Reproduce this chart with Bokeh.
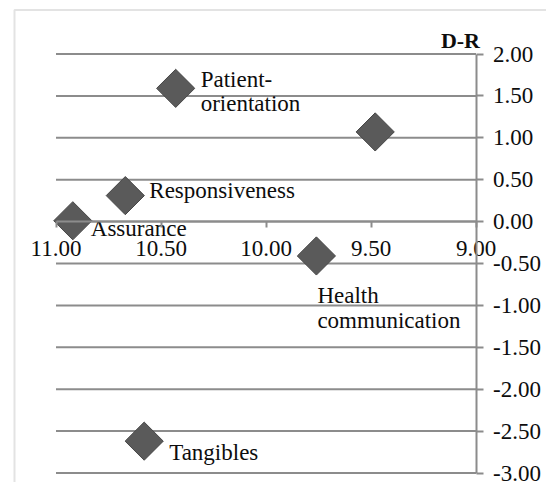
import numpy as np
from bokeh.plotting import figure
from bokeh.models import (LinearAxis, FixedTicker, NumeralTickFormatter, Range1d,
                          ColumnDataSource, BoxAnnotation)
from bokeh.core.properties import value
from bokeh.embed import file_html
from bokeh.resources import INLINE

# ---- data ----
labels = ["Patient-\norientation", "", "Responsiveness", "Assurance",
          "Health\ncommunication", "Tangibles"]
x_vals = [10.43, 9.48, 10.67, 10.92, 9.76, 10.58]
d_r = [1.59, 1.07, 0.31, 0.01, -0.41, -2.62]
x_ticks = [11.0, 10.5, 10.0, 9.5, 9.0]
y_ticks = [2.0, 1.5, 1.0, 0.5, 0.0, -0.5, -1.0, -1.5, -2.0, -2.5, -3.0]
y_title = "D-R"

# ---- layout (pixels) ----
W, H = 546, 482
X_LEFT_PX, X_RIGHT_PX = 55.5, 475.5     # where 11.00 and 9.00 sit
Y_TOP_PX, Y_BOT_PX = 53.5, 472.5        # where 2.00 and -3.00 sit
x_hi, x_lo = max(x_ticks), min(x_ticks)
y_hi, y_lo = max(y_ticks), min(y_ticks)
xs = (X_RIGHT_PX - X_LEFT_PX) / (x_hi - x_lo)
ys = (Y_BOT_PX - Y_TOP_PX) / (y_hi - y_lo)
x_range = Range1d(x_hi + X_LEFT_PX / xs, x_lo - (W - X_RIGHT_PX) / xs)
y_range = Range1d(y_lo - (H - Y_BOT_PX) / ys, y_hi + Y_TOP_PX / ys)

label_dx = [25, 0, 24, 18, 1, 25]
label_dy = [3, 0, -5, 8, 52, 11]

FONT = "Liberation Serif"
GRID = "#8c8c8c"
TXT = "#0d0d0d"

src = ColumnDataSource(dict(x=x_vals, y=d_r, label=labels, dx=label_dx, dy=label_dy))
gsrc = ColumnDataSource(dict(y=y_ticks, x0=[x_hi] * len(y_ticks), x1=[x_lo] * len(y_ticks)))
tsrc = ColumnDataSource(dict(x=[x_lo], y=[y_hi], t=[y_title]))

p = figure(width=W, height=H, output_backend="svg", toolbar_location=None,
           x_range=x_range, y_range=y_range,
           x_axis_location=None, y_axis_location=None,
           min_border_left=0, min_border_right=0, min_border_top=0, min_border_bottom=0)
p.outline_line_color = None
p.background_fill_color = "white"
p.border_fill_color = "white"
p.grid.visible = False

# outer chart border (only its left and top edges fall inside the picture)
p.add_layout(BoxAnnotation(left=x_range.start - 14 / xs, top=y_range.end - 9.5 / ys,
                           right=x_range.end - 40 / xs, bottom=y_range.start - 40 / ys,
                           fill_color=None, line_color="#a3a3a3", line_width=2))

# horizontal gridlines
p.segment(x0="x0", x1="x1", y0="y", y1="y", source=gsrc, line_color=GRID, line_width=2)

xaxis = LinearAxis(fixed_location=0, ticker=FixedTicker(ticks=x_ticks),
                   formatter=NumeralTickFormatter(format="0.00"), bounds=(x_lo, x_hi))
yaxis = LinearAxis(fixed_location=x_lo, ticker=FixedTicker(ticks=y_ticks),
                   formatter=NumeralTickFormatter(format="0.00"), bounds=(y_lo, y_hi))
for ax in (xaxis, yaxis):
    ax.axis_line_color = GRID
    ax.axis_line_width = 2
    ax.major_tick_line_color = GRID
    ax.major_tick_line_width = 2
    ax.major_tick_in = 0
    ax.minor_tick_line_color = None
    ax.major_label_text_font = FONT
    ax.major_label_text_font_size = "23px"
    ax.major_label_text_color = TXT
xaxis.major_tick_out = 6
xaxis.major_label_standoff = 13
yaxis.major_tick_out = 7
yaxis.major_label_standoff = 10
p.add_layout(xaxis, "below")
p.add_layout(yaxis, "right")

p.scatter("x", "y", source=src, marker="square", angle=np.pi / 4, size=27,
          fill_color="#5a5a5a", line_color="#474747", line_width=1)

p.text("x", "y", text="label", source=src, x_offset="dx", y_offset="dy",
       text_font=value(FONT), text_font_size="23px", text_color=TXT,
       text_align="left", text_baseline="middle", text_line_height=0.98)

# axis title "D-R" above the right-hand axis
p.text("x", "y", text="t", source=tsrc, x_offset=4, y_offset=-14,
       text_font=value(FONT), text_font_size="22px", text_font_style="bold",
       text_color=TXT, text_align="right", text_baseline="middle")

open("out.html", "w").write(file_html(p, INLINE))
